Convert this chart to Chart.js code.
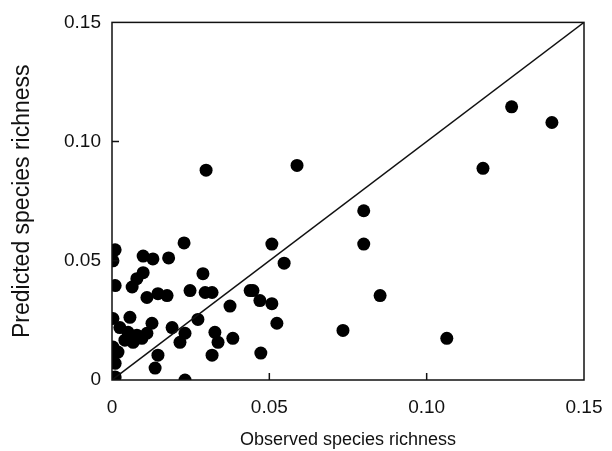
<!DOCTYPE html>
<html>
<head>
<meta charset="utf-8">
<script src="https://cdn.jsdelivr.net/npm/chart.js@4/dist/chart.umd.min.js"></script>
<style>
  html, body { margin: 0; padding: 0; background: #fff; }
  #wrap { width: 612px; height: 451px; }
</style>
</head>
<body>
<div id="wrap"><canvas id="chart" width="612" height="451"></canvas></div>
<script>
// observed vs predicted species richness
const observed = [
  0.001, 0.0003, 0.0099, 0.013, 0.018, 0.0229, 0.001, 0.0064, 0.0079, 0.0099,
  0.0111, 0.0146, 0.0175, 0.0289, 0.0248, 0.0296, 0.0318, 0.0375, 0.0439, 0.0508,
  0.0547, 0.0448, 0.047, 0.0508, 0.0524, 0.0473, 0.0734, 0.0852, 0.080, 0.080,
  0.1179, 0.127, 0.1398, 0.1064, 0.0299, 0.0588, 0.0003, 0.0057, 0.0025, 0.0051,
  0.0079, 0.0095, 0.0111, 0.0127, 0.0003, 0.0019, 0.0, 0.001, 0.0067, 0.0041,
  0.0191, 0.0146, 0.0137, 0.001, 0.0273, 0.0232, 0.0216, 0.0327, 0.0337, 0.0384,
  0.0318, 0.0232
];
const predicted = [
  0.0546, 0.050, 0.052, 0.0508, 0.0512, 0.0575, 0.0396, 0.039, 0.0425, 0.045,
  0.0346, 0.0362, 0.0354, 0.0446, 0.0375, 0.0367, 0.0367, 0.031, 0.0375, 0.057,
  0.049, 0.0375, 0.0333, 0.032, 0.0238, 0.0113, 0.0208, 0.0354, 0.071, 0.057,
  0.0888, 0.1146, 0.108, 0.0175, 0.088, 0.090, 0.0258, 0.0263, 0.022, 0.020,
  0.0188, 0.0175, 0.0196, 0.0238, 0.0138, 0.0117, 0.0092, 0.007, 0.0158, 0.0167,
  0.022, 0.0104, 0.005, 0.0013, 0.0254, 0.0196, 0.0158, 0.020, 0.0158, 0.0175,
  0.0104, 0.0
];
// 1:1 line
const lineX = [0, 0.15];
const lineY = [0, 0.15];
const xTickLabels = ['0', '0.05', '0.10', '0.15'];
const yTickLabels = ['0', '0.05', '0.10', '0.15'];
const tickValues = [0, 0.05, 0.10, 0.15];

const points = observed.map((x, i) => ({ x: x, y: predicted[i] }));
const diag = lineX.map((x, i) => ({ x: x, y: lineY[i] }));

function labelFor(list, v) {
  const i = tickValues.findIndex(t => Math.abs(t - v) < 1e-6);
  return i >= 0 ? list[i] : '';
}

// frame box plus small inward ticks
const framePlugin = {
  id: 'frame',
  afterDatasetsDraw(chart) {
    const c = chart.ctx;
    const a = chart.chartArea;
    const xs = chart.scales.x, ys = chart.scales.y;
    c.save();
    c.strokeStyle = '#111';
    c.lineWidth = 1.5;
    c.strokeRect(a.left, a.top, a.right - a.left, a.bottom - a.top);
    c.beginPath();
    [0.05, 0.10].forEach(v => {
      const px = xs.getPixelForValue(v);
      c.moveTo(px, a.bottom);
      c.lineTo(px, a.bottom - 7);
      const py = ys.getPixelForValue(v);
      c.moveTo(a.left, py);
      c.lineTo(a.left + 7, py);
    });
    c.stroke();
    c.restore();
  }
};

const font = 'Liberation Sans, Arial, sans-serif';

new Chart(document.getElementById('chart'), {
  type: 'scatter',
  data: {
    datasets: [
      {
        data: diag,
        showLine: true,
        borderColor: '#111',
        borderWidth: 1.5,
        pointRadius: 0,
        fill: false
      },
      {
        data: points,
        backgroundColor: '#000',
        borderColor: '#000',
        borderWidth: 0,
        pointRadius: 6.5
      }
    ]
  },
  options: {
    responsive: false,
    animation: false,
    layout: { padding: { top: 20, right: 28, left: 0, bottom: 0 } },
    plugins: { legend: { display: false }, tooltip: { enabled: false } },
    scales: {
      x: {
        type: 'linear',
        min: 0, max: 0.15,
        afterFit(s) { s.height = 71; },
        grid: { display: false },
        border: { display: false },
        ticks: {
          stepSize: 0.05,
          color: '#111',
          padding: 8,
          maxRotation: 0,
          font: { family: font, size: 19 },
          callback: v => labelFor(xTickLabels, v)
        },
        title: {
          display: true,
          text: 'Observed species richness',
          color: '#111',
          padding: { top: 12, bottom: 0 },
          font: { family: font, size: 18 }
        }
      },
      y: {
        type: 'linear',
        min: 0, max: 0.15,
        afterFit(s) { s.width = 112; },
        grid: { display: false, drawTicks: false },
        border: { display: false },
        ticks: {
          stepSize: 0.05,
          color: '#111',
          padding: 11,
          font: { family: font, size: 19 },
          callback: v => labelFor(yTickLabels, v)
        },
        title: {
          display: true,
          text: 'Predicted species richness',
          color: '#111',
          padding: { top: 9, bottom: 0 },
          font: { family: font, size: 23 }
        }
      }
    }
  },
  plugins: [framePlugin]
});
</script>
</body>
</html>
